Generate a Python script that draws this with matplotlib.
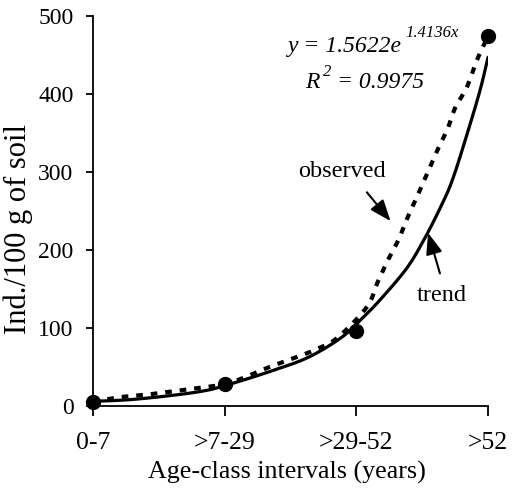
import numpy as np
import matplotlib
matplotlib.use("Agg")
import matplotlib.pyplot as plt

plt.rcParams['font.family'] = ['Liberation Serif', 'DejaVu Serif']

# Data
categories = ['0-7', '>7-29', '>29-52', '>52']
observed = [5, 28, 96, 474]

# dotted "observed" curve (category-position, value)
obs_curve_x = [1, 1.19, 1.38, 1.57, 1.75, 2.0, 2.17, 2.34, 2.52, 2.70, 2.86, 3.08,
               3.16, 3.24, 3.32, 3.38, 3.46, 3.54, 3.61, 3.69, 3.75, 3.84, 3.92, 4.0]
obs_curve_y = [5, 11, 14, 18, 22, 28, 38, 50, 61, 73, 88, 127,
               158, 187, 213, 238, 268, 299, 326, 354, 382, 409, 445, 474]

# trend curve
trend_x = [1, 1.27, 1.57, 1.83, 2.0, 2.34, 2.63, 2.88, 3.03, 3.18, 3.38, 3.51,
           3.64, 3.73, 3.84, 3.94, 4.0]
trend_y = [6, 8, 13, 19, 26, 44, 62, 87, 110, 136, 176, 212,
           255, 290, 348, 405, 447]

y_ticks = [0, 100, 200, 300, 400, 500]


def catmull(xs, ys, n=20):
    xs = np.asarray(xs, float); ys = np.asarray(ys, float)
    px = np.concatenate([[2*xs[0]-xs[1]], xs, [2*xs[-1]-xs[-2]]])
    py = np.concatenate([[2*ys[0]-ys[1]], ys, [2*ys[-1]-ys[-2]]])
    ox, oy = [], []
    for i in range(1, len(px)-2):
        t = np.linspace(0, 1, n, endpoint=False)
        for arr, out in ((px, ox), (py, oy)):
            p0, p1, p2, p3 = arr[i-1], arr[i], arr[i+1], arr[i+2]
            out.extend(0.5*((2*p1) + (-p0+p2)*t + (2*p0-5*p1+4*p2-p3)*t**2
                            + (-p0+3*p1-3*p2+p3)*t**3))
    ox.append(xs[-1]); oy.append(ys[-1])
    return np.array(ox), np.array(oy)


fig = plt.figure(figsize=(5.12, 4.93), dpi=100)
ax = fig.add_axes([93/512, 1-406/493, (488-93)/512, (406-16)/493])

x_pos = np.arange(1, len(categories)+1)

tx, ty = catmull(trend_x, trend_y)
ax.plot(tx, ty, color='black', lw=2.3, solid_capstyle='round', zorder=2)
ox, oy = catmull(obs_curve_x, obs_curve_y)
ax.plot(ox, oy, color='black', lw=3.0, linestyle=(0, (1.6, 1.9)), zorder=3)
ax.plot(x_pos, observed, 'o', color='black', markersize=10, zorder=4, clip_on=False)

ax.set_xlim(1, 4)
ax.set_ylim(0, 500)
ax.set_xticks(x_pos)
ax.set_xticklabels(categories)
ax.set_yticks(y_ticks)
ax.spines['top'].set_visible(False)
ax.spines['right'].set_visible(False)
for s in ('left', 'bottom'):
    ax.spines[s].set_linewidth(1.3)
ax.tick_params(axis='both', direction='out', width=1.3, colors='black')
ax.tick_params(axis='x', length=7, pad=12, labelsize=18.5)
ax.tick_params(axis='y', length=5, pad=9, labelsize=17)
ax.set_xlabel('Age-class intervals (years)', fontsize=18.7)
ax.set_ylabel('Ind./100 g of soil', fontsize=22, va='center')
ax.xaxis.set_label_coords(0.49, -0.14)
ax.yaxis.set_label_coords(-0.19, 0.455)

fs_eq = 17
ax.text(2.48, 454, 'y = 1.5622e', fontsize=fs_eq, style='italic', ha='left', va='baseline')
ax.text(3.37, 473, '1.4136x', fontsize=12, style='italic', ha='left', va='baseline')
ax.text(2.61, 408, 'R', fontsize=fs_eq, style='italic', ha='left', va='baseline')
ax.text(2.75, 423, '2', fontsize=12, style='italic', ha='left', va='baseline')
ax.text(2.85, 408, '= 0.9975', fontsize=fs_eq, style='italic', ha='left', va='baseline')

ax.text(2.557, 294, 'observed', fontsize=17.5, ha='left', va='baseline')
ax.annotate('', xy=(3.26, 237), xytext=(3.08, 274),
            arrowprops=dict(arrowstyle='-|>,head_length=1.3,head_width=0.5',
                            color='black', lw=1.5, shrinkA=0, shrinkB=0))
ax.text(3.46, 135, 'trend', fontsize=17.5, ha='left', va='baseline')
ax.annotate('', xy=(3.545, 222), xytext=(3.635, 170),
            arrowprops=dict(arrowstyle='-|>,head_length=1.3,head_width=0.5',
                            color='black', lw=1.5, shrinkA=0, shrinkB=0))

fig.savefig('out.png', dpi=100)
